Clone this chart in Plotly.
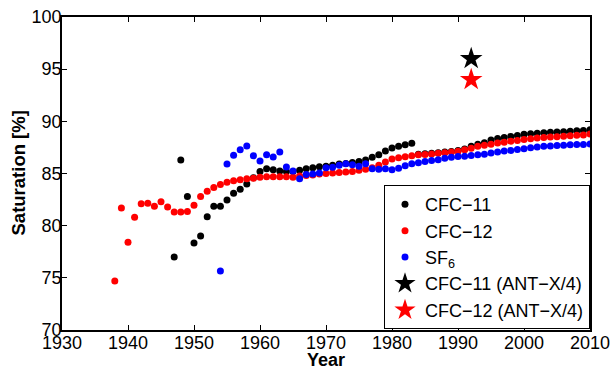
import plotly.graph_objects as go

cfc11_years = list(range(1947, 2011))
cfc11_sat = [77.0, 86.3, 82.8, 78.35, 79.0, 80.85, 81.85, 81.85, 82.45, 83.1,
             83.5, 84.0, 84.6, 85.2, 85.45, 85.35, 85.25, 85.2, 85.2, 85.3,
             85.45, 85.55, 85.65, 85.7, 85.8, 85.9, 85.95, 86.05, 86.15, 86.3,
             86.55, 86.8, 87.15, 87.45, 87.6, 87.75, 87.9, 86.85, 86.9, 86.95,
             87.0, 87.05, 87.1, 87.2, 87.35, 87.6, 87.8, 87.95, 88.2, 88.35,
             88.45, 88.55, 88.65, 88.75, 88.8, 88.85, 88.9, 88.95, 88.97, 89.0,
             89.05, 89.1, 89.12, 89.2]

cfc12_years = list(range(1938, 2011))
cfc12_sat = [74.7, 81.7, 78.4, 80.8, 82.1, 82.15, 81.85, 82.3, 81.8, 81.3,
             81.3, 81.35, 81.95, 82.8, 83.3, 83.65, 83.95, 84.15, 84.3, 84.4,
             84.5, 84.55, 84.65, 84.7, 84.7, 84.7, 84.7, 84.65, 84.75, 84.8,
             84.85, 84.95, 85.0, 85.05, 85.1, 85.15, 85.2, 85.3, 85.4, 85.55,
             85.8, 86.1, 86.4, 86.5, 86.6, 86.7, 86.8, 86.83, 86.88, 86.95,
             87.0, 87.05, 87.14, 87.27, 87.43, 87.6, 87.7, 87.8, 87.92, 88.0,
             88.1, 88.17, 88.27, 88.33, 88.4, 88.45, 88.5, 88.53, 88.58, 88.62,
             88.67, 88.7, 88.78]

sf6_years = list(range(1954, 2011))
sf6_sat = [75.65, 85.9, 86.75, 87.27, 87.63, 86.7, 86.2, 86.8, 86.57, 87.05,
           85.62, 85.25, 84.5, 84.9, 84.95, 85.05, 85.55, 85.6, 85.8, 85.93,
           85.85, 85.7, 85.93, 85.45, 85.4, 85.45, 85.35, 85.5, 85.75, 85.93,
           86.02, 86.15, 86.25, 86.31, 86.45, 86.55, 86.62, 86.66, 86.72, 86.8,
           86.85, 86.96, 87.05, 87.15, 87.21, 87.31, 87.37, 87.47, 87.53, 87.6,
           87.63, 87.69, 87.7, 87.76, 87.77, 87.79, 87.82]

ant_year = [1992]
ant_cfc11 = [96.0]
ant_cfc12 = [94.0]

FONT = "Liberation Sans, Arial, Helvetica, sans-serif"

fig = go.Figure()
fig.add_trace(go.Scatter(x=cfc11_years, y=cfc11_sat, mode="markers", name="CFC\u221211",
                         marker=dict(color="black", size=7)))
fig.add_trace(go.Scatter(x=cfc12_years, y=cfc12_sat, mode="markers", name="CFC\u221212",
                         marker=dict(color="red", size=7)))
fig.add_trace(go.Scatter(x=sf6_years, y=sf6_sat, mode="markers", name="SF<sub>6</sub>",
                         marker=dict(color="blue", size=7)))
fig.add_trace(go.Scatter(x=ant_year, y=ant_cfc11, mode="markers", name="CFC\u221211 (ANT\u2212X/4)",
                         marker=dict(color="black", size=17, symbol="star")))
fig.add_trace(go.Scatter(x=ant_year, y=ant_cfc12, mode="markers", name="CFC\u221212 (ANT\u2212X/4)",
                         marker=dict(color="red", size=17, symbol="star")))

axis_common = dict(showline=True, linecolor="black", linewidth=1.5, mirror="ticks",
                   ticks="inside", ticklen=5, tickcolor="black", showgrid=False,
                   zeroline=False, automargin=False,
                   tickfont=dict(family=FONT, size=18, color="black"))

fig.update_layout(
    width=613, height=366,
    margin=dict(l=62, r=23, t=17, b=36),
    paper_bgcolor="white", plot_bgcolor="white",
    font=dict(family=FONT, color="black"),
    xaxis=dict(range=[1930, 2010], tick0=1930, dtick=10, ticklabelstandoff=-4, **axis_common),
    yaxis=dict(range=[70, 100], tick0=70, dtick=5, ticklabelstandoff=-5, **axis_common),
    legend=dict(x=1, y=0.003, xanchor="right", yanchor="bottom",
                bgcolor="white", bordercolor="black", borderwidth=1,
                font=dict(family=FONT, size=18, color="black"),
                itemsizing="trace", tracegroupgap=0, itemwidth=30),
    showlegend=True,
    annotations=[
        dict(text="<b>Year</b>", xref="paper", yref="paper", x=0.5, y=0,
             xanchor="center", yanchor="top", yshift=-18, showarrow=False,
             font=dict(family=FONT, size=18, color="black")),
        dict(text="<b>Saturation [%]</b>", xref="paper", yref="paper", x=0, y=0.5,
             xanchor="center", yanchor="middle", xshift=-44, textangle=-90,
             showarrow=False, font=dict(family=FONT, size=18.5, color="black")),
    ],
)

fig.write_html("out.html", config={"displayModeBar": False},
               post_script="document.body.style.margin='0';document.body.style.padding='0';")
